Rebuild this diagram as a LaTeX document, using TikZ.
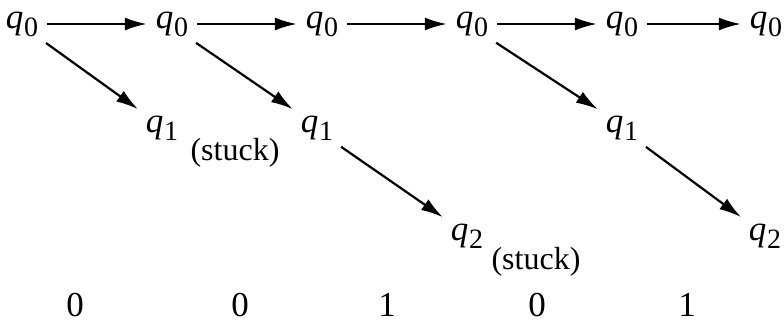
\documentclass[tikz,border=0pt]{standalone}
\usepackage{fontspec}
\setmainfont{Liberation Serif}
\usetikzlibrary{arrows.meta}
\newcommand{\qs}[1]{\textit{q}\kern0.3pt\raisebox{-0.5ex}{\fontsize{14}{16}\selectfont #1}}

\begin{document}
\begin{tikzpicture}[x=0.5pt,y=-0.5pt,>={Latex[length=11pt,width=6.5pt]},
	every node/.style={font=\fontsize{17.5}{20}\selectfont,inner sep=1pt},
	every path/.style={line width=1.1pt},
	note/.style={font=\fontsize{16}{18}\selectfont},
	shorten >=3pt,shorten <=3pt]
			\useasboundingbox (0,0) rectangle (784,327);
			\node (a0) at (22, 24) {\qs{0}};
			\node (b0) at (172, 24) {\qs{0}};
			\node (c0) at (322, 24) {\qs{0}};
			\node (d0) at (472, 24) {\qs{0}};
			\node (e0) at (622, 24) {\qs{0}};
			\node (f0) at (766, 24) {\qs{0}};
			\node (b1) at (162, 128) {\qs{1}};
			\node (c1) at (317, 128) {\qs{1}};
			\node (e1) at (622, 128) {\qs{1}};
			\node (d2) at (467, 236) {\qs{2}};
			\node (f2) at (765, 236) {\qs{2}};
			\node[note] (s1) at (235, 153) {(stuck)};
			\node[note] (s2) at (536, 262) {(stuck)};
			\node (x1) at (75, 305) {0};
			\node (x2) at (240, 305) {0};
			\node (x3) at (387, 305) {1};
			\node (x4) at (537, 305) {0};
			\node (x5) at (687, 305) {1};
			
			\draw[->] (a0) -- (b0);
			\draw[->] (b0) -- (c0);
			\draw[->] (c0) -- (d0);
			\draw[->] (d0) -- (e0);
			\draw[->] (e0) -- (f0);
			\draw[->] (a0.south east) -- (b1.north west);
			\draw[->] (b0.south east) -- (c1.north west);
			\draw[->] (c1.south east) -- (d2.north west);
			\draw[->] (d0.south east) -- (e1.north west);
			\draw[->] (e1.south east) -- (f2.north west);
		\end{tikzpicture}
\end{document}
